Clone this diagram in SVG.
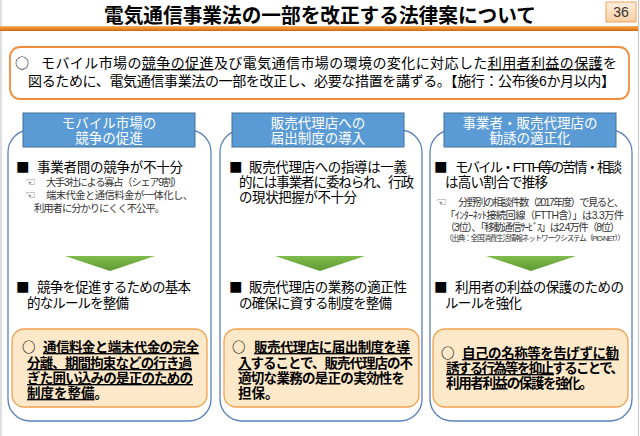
<svg xmlns="http://www.w3.org/2000/svg" width="640" height="436" viewBox="0 0 640 436">
<defs>
<linearGradient id="gLine" x1="0" y1="0" x2="0" y2="1">
<stop offset="0" stop-color="#fbb26e"/><stop offset="0.5" stop-color="#f28a25"/><stop offset="1" stop-color="#c8650f"/>
</linearGradient>
<linearGradient id="gPage" x1="0" y1="0" x2="0" y2="1">
<stop offset="0" stop-color="#fdeee0"/><stop offset="1" stop-color="#fbcfa0"/>
</linearGradient>
<linearGradient id="gTri" x1="0" y1="0" x2="0" y2="1">
<stop offset="0" stop-color="#7fbb4c"/><stop offset="1" stop-color="#5f9a32"/>
</linearGradient>
<style>
text{font-family:"Liberation Sans","Noto Sans CJK JP",sans-serif;fill:#000}
.title{font-size:20px;font-weight:bold;text-anchor:middle}
.sum{font-size:14px}
.hd{font-size:13.5px;fill:#fff;text-anchor:middle}
.b{font-size:13.5px}
.s{font-size:10.3px;fill:#333}
.xs{font-size:7.5px;fill:#333}
.ic{font-family:"DejaVu Sans",sans-serif;font-size:12px;fill:#222;font-weight:bold}
.k{font-size:13.5px;font-weight:bold}
.m{font-family:"Noto Sans CJK JP",sans-serif}
.u{text-decoration:underline}
.col{fill:#fff;stroke:#5b80bd;stroke-width:1.3}
.hdr{fill:#5b9bd5;stroke:#41719c;stroke-width:1}
.inner{fill:#fde9c9;stroke:#f4a14f;stroke-width:1.3}
.tri{fill:url(#gTri)}
</style>
</defs>
<rect width="640" height="436" fill="#fff"/>
<line x1="1" y1="0" x2="1" y2="436" stroke="#c8c8c8" stroke-width="1.2"/>
<line x1="638.5" y1="0" x2="638.5" y2="436" stroke="#c8c8c8" stroke-width="1.2"/>

<g id="title">
<text class="title" x="320" y="23" textLength="432" lengthAdjust="spacingAndGlyphs">電気通信事業法の一部を改正する法律案について</text>
<rect x="0" y="26" width="638" height="5" fill="url(#gLine)"/>
</g>

<g id="page-number">
<rect x="606" y="2" width="30" height="20" fill="url(#gPage)" stroke="#f0a35e" stroke-width="1"/>
<text x="621" y="17" style="font-size:14px;text-anchor:middle;fill:#333">36</text>
</g>

<g id="summary">
<rect x="10" y="47" width="619" height="52" rx="10" fill="#fff" stroke="#f08c3a" stroke-width="1.8"/>
<text class="sum m" x="15" y="68">○</text>
<text class="sum" x="41" y="68" textLength="576" lengthAdjust="spacing">モバイル市場の<tspan class="u">競争の促進</tspan>及び電気通信市場の環境の変化に対応した<tspan class="u">利用者利益の保護</tspan>を</text>
<text class="sum" x="28" y="86" textLength="587" lengthAdjust="spacing">図るために、電気通信事業法の一部を改正し、必要な措置を講ずる。【施行：公布後6か月以内】</text>
</g>

<g id="col1">
<rect class="col" x="8" y="130" width="203" height="291" rx="22"/>
<rect class="hdr" x="23" y="113" width="172" height="34"/>
<text class="hd" x="109" y="128">モバイル市場の</text>
<text class="hd" x="109" y="143">競争の促進</text>
<text class="b m" x="16" y="172">■</text>
<text class="b" x="37" y="172" textLength="146" lengthAdjust="spacing">事業者間の競争が不十分</text>
<text class="ic" x="25" y="186">☜</text>
<text class="s" x="46" y="186" textLength="136" lengthAdjust="spacing">大手3社による寡占（シェア9割）</text>
<text class="ic" x="25" y="199">☜</text>
<text class="s" x="46" y="199" textLength="147" lengthAdjust="spacing">端末代金と通信料金が一体化し、</text>
<text class="s" x="34" y="212" textLength="131" lengthAdjust="spacing">利用者に分かりにくく不公平。</text>
<text class="b m" x="16" y="292">■</text>
<text class="b" x="37" y="292" textLength="154" lengthAdjust="spacing">競争を促進するための基本</text>
<text class="b" x="27" y="308" textLength="102" lengthAdjust="spacing">的なルールを整備</text>
<rect class="inner" x="12" y="329" width="195" height="78" rx="12"/>
<text class="k m" x="22" y="352">○</text>
<text class="k u" x="43" y="352" textLength="156" lengthAdjust="spacing">通信料金と端末代金の完全</text>
<text class="k u" x="27" y="368" textLength="165" lengthAdjust="spacing">分離、期間拘束などの行き過</text>
<text class="k u" x="27" y="383" textLength="166" lengthAdjust="spacing">ぎた囲い込みの是正のための</text>
<text class="k" x="27" y="398"><tspan class="u">制度を整備</tspan>。</text>
</g>

<g id="col2">
<rect class="col" x="220" y="130" width="202" height="291" rx="22"/>
<rect class="hdr" x="232" y="113" width="172" height="34"/>
<text class="hd" x="318" y="128">販売代理店への</text>
<text class="hd" x="318" y="143">届出制度の導入</text>
<text class="b m" x="229" y="172">■</text>
<text class="b" x="249" y="172" textLength="158" lengthAdjust="spacing">販売代理店への指導は一義</text>
<text class="b" x="239" y="187" textLength="175" lengthAdjust="spacing">的には事業者に委ねられ、行政</text>
<text class="b" x="239" y="202" textLength="118" lengthAdjust="spacing">の現状把握が不十分</text>
<text class="b m" x="229" y="292">■</text>
<text class="b" x="249" y="292" textLength="158" lengthAdjust="spacing">販売代理店の業務の適正性</text>
<text class="b" x="239" y="308" textLength="153" lengthAdjust="spacing">の確保に資する制度を整備</text>
<rect class="inner" x="224" y="329" width="195" height="78" rx="12"/>
<text class="k m" x="232" y="352">○</text>
<text class="k u" x="254" y="352" textLength="156" lengthAdjust="spacing">販売代理店に届出制度を導</text>
<text class="k" x="238" y="368" textLength="175" lengthAdjust="spacing"><tspan class="u">入</tspan>することで、販売代理店の不</text>
<text class="k" x="238" y="383" textLength="167" lengthAdjust="spacing">適切な業務の是正の実効性を</text>
<text class="k" x="238" y="398">担保。</text>
</g>

<g id="col3">
<rect class="col" x="430" y="130" width="202" height="291" rx="22"/>
<rect class="hdr" x="444" y="113" width="172" height="34"/>
<text class="hd" x="530" y="128">事業者・販売代理店の</text>
<text class="hd" x="530" y="143">勧誘の適正化</text>
<text class="b m" x="434" y="172">■</text>
<text class="b" x="455" y="172" textLength="167" lengthAdjust="spacing">モバイル・FTTH等の苦情・相談</text>
<text class="b" x="445" y="187" textLength="103" lengthAdjust="spacing">は高い割合で推移</text>
<text class="ic" x="436" y="206">☜</text>
<text class="s" x="458" y="206" textLength="166" lengthAdjust="spacing">分野別の相談件数（2017年度）で見ると、</text>
<text class="s" x="445" y="219" textLength="179" lengthAdjust="spacing">「ｲﾝﾀｰﾈｯﾄ接続回線（FTTH含）」は3.3万件</text>
<text class="s" x="445" y="231" textLength="175" lengthAdjust="spacing">（3位）、「移動通信ｻｰﾋﾞｽ」は2.4万件（8位）</text>
<text class="xs" x="445" y="241" textLength="180" lengthAdjust="spacing">（出典：全国消費生活情報ネットワークシステム（PIO-NET））</text>
<text class="b m" x="434" y="292">■</text>
<text class="b" x="455" y="292" textLength="169" lengthAdjust="spacing">利用者の利益の保護のための</text>
<text class="b" x="445" y="308" textLength="77" lengthAdjust="spacing">ルールを強化</text>
<rect class="inner" x="433" y="329" width="195" height="78" rx="12"/>
<text class="k m" x="441" y="358">○</text>
<text class="k u" x="462" y="358" textLength="157" lengthAdjust="spacing">自己の名称等を告げずに勧</text>
<text class="k" x="446" y="373" textLength="178" lengthAdjust="spacing"><tspan class="u">誘する行為等を抑止</tspan>することで、</text>
<text class="k" x="446" y="388" textLength="147" lengthAdjust="spacing">利用者利益の保護を強化。</text>
</g>

<g id="connectors">
<polygon class="tri" points="65,256 155,256 110,271"/>
<polygon class="tri" points="275,256 365,256 320,271"/>
<polygon class="tri" points="486,256 576,256 531,271"/>
</g>
</svg>
